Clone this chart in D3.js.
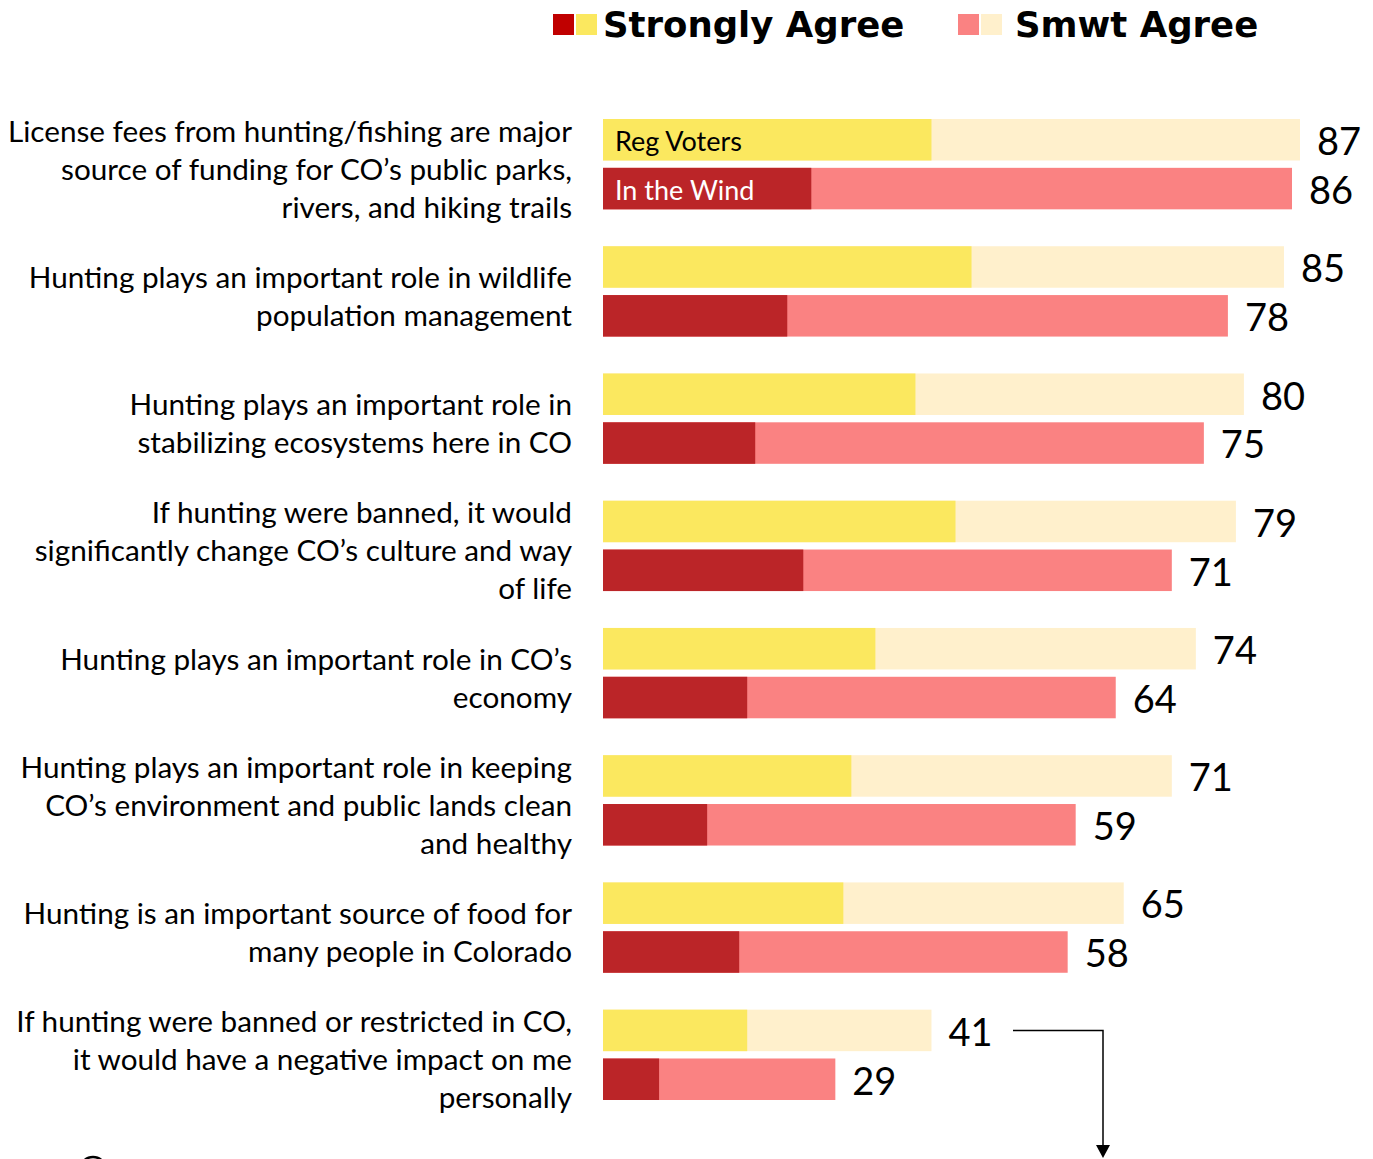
<!DOCTYPE html>
<html>
<head>
<meta charset="utf-8">
<script src="https://cdn.jsdelivr.net/npm/d3@7"></script>
<style>
  html, body { margin: 0; padding: 0; background: #fff; }
  svg { display: block; }
</style>
</head>
<body>
<script>
// questions, one entry per line of the wrapped label
const questions = [
  ['License fees from hunting/fishing are major', 'source of funding for CO\u2019s public parks,', 'rivers, and hiking trails'],
  ['Hunting plays an important role in wildlife', 'population management'],
  ['Hunting plays an important role in', 'stabilizing ecosystems here in CO'],
  ['If hunting were banned, it would', 'significantly change CO\u2019s culture and way', 'of life'],
  ['Hunting plays an important role in CO\u2019s', 'economy'],
  ['Hunting plays an important role in keeping', 'CO\u2019s environment and public lands clean', 'and healthy'],
  ['Hunting is an important source of food for', 'many people in Colorado'],
  ['If hunting were banned or restricted in CO,', 'it would have a negative impact on me', 'personally']
];

const regStrongly = [41, 46, 39, 44, 34, 31, 30, 18];
const regTotal    = [87, 85, 80, 79, 74, 71, 65, 41];
const windStrongly = [26, 23, 19, 25, 18, 13, 17, 7];
const windTotal    = [86, 78, 75, 71, 64, 59, 58, 29];

const seriesNames = ['Reg Voters', 'In the Wind'];
const legendLabels = ['Strongly Agree', 'Smwt Agree'];

const width = 1373, height = 1159;

const colors = {
  'Reg Voters':  { strong: '#fbe85f', smwt: '#fff0cc', text: '#000' },
  'In the Wind': { strong: '#bb2528', smwt: '#fa8282', text: '#fff' }
};

const rows = questions.map((q, i) => ({
  idx: i,
  lines: q,
  bars: [
    { series: 'Reg Voters', strong: regStrongly[i], total: regTotal[i] },
    { series: 'In the Wind', strong: windStrongly[i], total: windTotal[i] }
  ]
}));

const svg = d3.select('body').append('svg')
  .attr('width', width)
  .attr('height', height);

const x = d3.scaleLinear().domain([0, 87]).range([603, 1300]);

const y = d3.scaleBand()
  .domain(d3.range(questions.length))
  .range([119, 1100])
  .paddingInner(0.29)
  .paddingOuter(0);

const yInner = d3.scaleBand()
  .domain(seriesNames)
  .range([0, y.bandwidth()])
  .paddingInner(0.15);

const group = svg.selectAll('g.question')
  .data(rows)
  .enter()
  .append('g')
  .attr('class', 'question')
  .attr('transform', d => 'translate(0,' + y(d.idx) + ')');

// question labels on the left
const lineH = 38;
group.append('text')
  .attr('text-anchor', 'end')
  .attr('font-family', 'Lato, "Open Sans", sans-serif')
  .attr('font-size', 29.7)
  .attr('fill', '#000')
  .each(function(d) {
    const t = d3.select(this);
    const n = d.lines.length;
    const mid = y.bandwidth() / 2 + 5;
    d.lines.forEach((line, k) => {
      t.append('tspan')
        .attr('x', 572)
        .attr('y', mid + (k - (n - 1) / 2) * lineH)
        .attr('dy', '0.35em')
        .text(line);
    });
  });

const bar = group.selectAll('g.bar')
  .data(d => d.bars)
  .enter()
  .append('g')
  .attr('class', 'bar')
  .attr('transform', d => 'translate(0,' + yInner(d.series) + ')');

bar.append('rect')
  .attr('x', x(0))
  .attr('width', d => x(d.total) - x(0))
  .attr('height', yInner.bandwidth())
  .attr('fill', d => colors[d.series].smwt);

bar.append('rect')
  .attr('x', x(0))
  .attr('width', d => x(d.strong) - x(0))
  .attr('height', yInner.bandwidth())
  .attr('fill', d => colors[d.series].strong);

bar.append('text')
  .attr('x', d => x(d.total) + 17)
  .attr('y', yInner.bandwidth() / 2 + 2)
  .attr('dy', '0.35em')
  .attr('font-family', 'Lato, "Open Sans", sans-serif')
  .attr('font-size', 38)
  .attr('fill', '#000')
  .text(d => d.total);

// series names inside the first pair of bars
group.filter(d => d.idx === 0)
  .selectAll('g.bar')
  .append('text')
  .attr('x', x(0) + 12)
  .attr('y', yInner.bandwidth() / 2 + 2)
  .attr('dy', '0.35em')
  .attr('font-family', 'Lato, "Open Sans", sans-serif')
  .attr('font-size', 27)
  .attr('fill', d => colors[d.series].text)
  .text(d => d.series);

// legend
const legend = svg.append('g').attr('class', 'legend');
const legendItems = [
  { label: legendLabels[0], sw: ['#c00000', '#fbe85f'], x: 553, tx: 603 },
  { label: legendLabels[1], sw: ['#fa8282', '#fff0cc'], x: 958, tx: 1015 }
];
legendItems.forEach(item => {
  item.sw.forEach((c, k) => {
    legend.append('rect')
      .attr('x', item.x + k * 23)
      .attr('y', 14)
      .attr('width', 21)
      .attr('height', 21)
      .attr('fill', c);
  });
  legend.append('text')
    .attr('x', item.tx)
    .attr('y', 24)
    .attr('dy', '0.36em')
    .attr('font-family', '"DejaVu Sans", sans-serif')
    .attr('font-weight', 'bold')
    .attr('font-size', 35.5)
    .attr('fill', '#000')
    .text(item.label);
});

// arrow from the last Reg Voters value
const lastY = y(questions.length - 1) + yInner('Reg Voters') + yInner.bandwidth() / 2;

svg.append('path')
  .attr('d', 'M1013,' + lastY + 'H1103V1150')
  .attr('fill', 'none')
  .attr('stroke', '#000')
  .attr('stroke-width', 1.5);

svg.append('path')
  .attr('d', 'M1096,1145L1110,1145L1103,1158Z')
  .attr('fill', '#000');

// partly visible circle at the bottom edge
svg.append('circle')
  .attr('cx', 93)
  .attr('cy', 1170)
  .attr('r', 13)
  .attr('fill', 'none')
  .attr('stroke', '#000')
  .attr('stroke-width', 2.5);
</script>
</body>
</html>
